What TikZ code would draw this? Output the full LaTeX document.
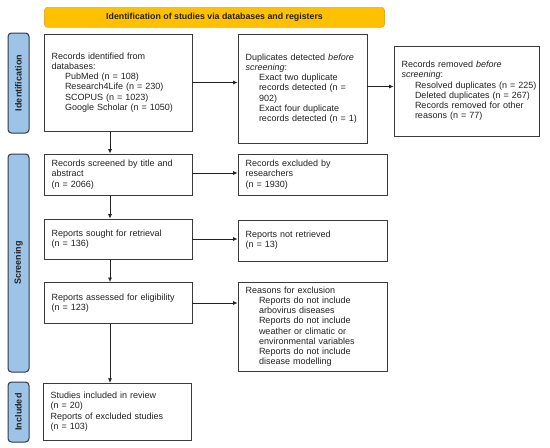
\documentclass[tikz,border=0pt]{standalone}
\usepackage{fontspec}
\setmainfont{Liberation Sans}
\usetikzlibrary{arrows.meta}
\definecolor{bordergray}{HTML}{3A3A3A}
\definecolor{textgray}{HTML}{222222}
\definecolor{banneryellow}{HTML}{FFC000}
\definecolor{bannerborder}{HTML}{E6AC28}
\definecolor{sideblue}{HTML}{9DC3E6}
\definecolor{sideborder}{HTML}{2E3B4E}
\tikzset{
  x=1pt, y=-1pt,
  flowbox/.style={draw=bordergray, line width=0.9pt, align=left, inner xsep=7.7pt, inner ysep=2pt,
    font=\fontsize{9}{10.25}\selectfont, text=textgray},
  banner/.style={draw=bannerborder, fill=banneryellow, rounded corners=3pt, line width=0.6pt,
    font=\fontsize{8.8}{10}\selectfont\bfseries, text=textgray, inner sep=0pt},
  sidelabel/.style={draw=sideborder, fill=sideblue, rounded corners=3.5pt, line width=1pt, inner sep=0pt},
  sidetext/.style={rotate=90, font=\fontsize{9}{10}\selectfont\bfseries, text=textgray},
  arr/.style={draw=textgray, line width=0.7pt, -{Latex[length=4.5pt,width=4pt]}},
}
\newcommand{\ind}{\hspace*{13.3pt}}
\begin{document}
\begin{tikzpicture}
\useasboundingbox (0,0) rectangle (550,448);
\fill[white] (0,0) rectangle (550,448);

% banner
\node[banner, minimum width=340pt, minimum height=20pt] (ban) at (214.5,17.3) {Identification of studies via databases and registers};

% side labels
\node[sidelabel, minimum width=21pt, minimum height=100pt] (sideid) at (18.5,83) {};
\node[sidetext] (sideidt) at (sideid.center) {Identification};
\node[sidelabel, minimum width=21pt, minimum height=218pt] (sidesc) at (18.5,263) {};
\node[sidetext] (sidesct) at (sidesc.center) {Screening};
\node[sidelabel, minimum width=21pt, minimum height=60pt] (sidein) at (18.5,412) {};
\node[sidetext] (sideint) at (sidein.center) {Included};

% boxes
\node[flowbox, minimum width=148pt, minimum height=97pt, text width=132.6pt] (A) at (118,82.5)
 {Records identified from\\databases:\\\ind PubMed (n = 108)\\\ind Research4Life (n = 230)\\\ind SCOPUS (n = 1023)\\\ind Google Scholar (n = 1050)};
\node[flowbox, minimum width=129pt, minimum height=109pt, text width=113.6pt] (B) at (302.5,88.5)
 {Duplicates detected \textit{before}\\\textit{screening}:\\\ind Exact two duplicate\\\ind records detected (n =\\\ind 902)\\\ind Exact four duplicate\\\ind \mbox{records detected (n = 1)}};
\node[flowbox, minimum width=145pt, minimum height=90pt, text width=129.6pt] (C) at (466.5,91)
 {Records removed \textit{before}\\\textit{screening}:\\\ind \mbox{Resolved duplicates (n = 225)}\\\ind \mbox{Deleted duplicates (n = 267)}\\\ind Records removed for other\\\ind reasons (n = 77)};
\node[flowbox, minimum width=148pt, minimum height=41pt, text width=132.6pt] (D) at (118,174.5)
 {Records screened by title and\\abstract\\(n = 2066)};
\node[flowbox, minimum width=149pt, minimum height=41pt, text width=133.6pt] (E) at (312.5,174.5)
 {Records excluded by\\researchers\\(n = 1930)};
\node[flowbox, minimum width=148pt, minimum height=40pt, text width=132.6pt] (F) at (118,239)
 {Reports sought for retrieval\\(n = 136)};
\node[flowbox, minimum width=149pt, minimum height=41pt, text width=133.6pt] (G) at (312.5,240.5)
 {Reports not retrieved\\(n = 13)};
\node[flowbox, minimum width=148pt, minimum height=41pt, text width=132.6pt] (H) at (118,303)
 {Reports assessed for eligibility\\(n = 123)};
\node[flowbox, minimum width=149pt, minimum height=88.5pt, text width=133.6pt] (I) at (312.5,326.75)
 {Reasons for exclusion\\\ind Reports do not include\\\ind arbovirus diseases\\\ind Reports do not include\\\ind weather or climatic or\\\ind environmental variables\\\ind Reports do not include\\\ind disease modelling};
\node[flowbox, minimum width=148pt, minimum height=56.7pt, text width=132.6pt] (J) at (117,411.65)
 {Studies included in review\\(n = 20)\\Reports of excluded studies\\(n = 103)\\[8pt]};

% vertical connectors
\coordinate (vx) at (110,0);
\draw[arr] (A.south -| vx) -- (D.north -| vx);
\draw[arr] (D.south -| vx) -- (F.north -| vx);
\draw[arr] (F.south -| vx) -- (H.north -| vx);
\draw[arr] (H.south -| vx) -- (J.north -| vx);

% horizontal connectors
\draw[arr] (A.east) -- (A.east -| B.west);
\draw[arr] ([yshift=2pt]B.east) -- ([yshift=2pt]B.east -| C.west);
\draw[arr] ([yshift=1.5pt]D.east) -- ([yshift=1.5pt]D.east -| E.west);
\draw[arr] (F.east) -- (F.east -| G.west);
\draw[arr] (H.east) -- (H.east -| I.west);
\end{tikzpicture}
\end{document}
